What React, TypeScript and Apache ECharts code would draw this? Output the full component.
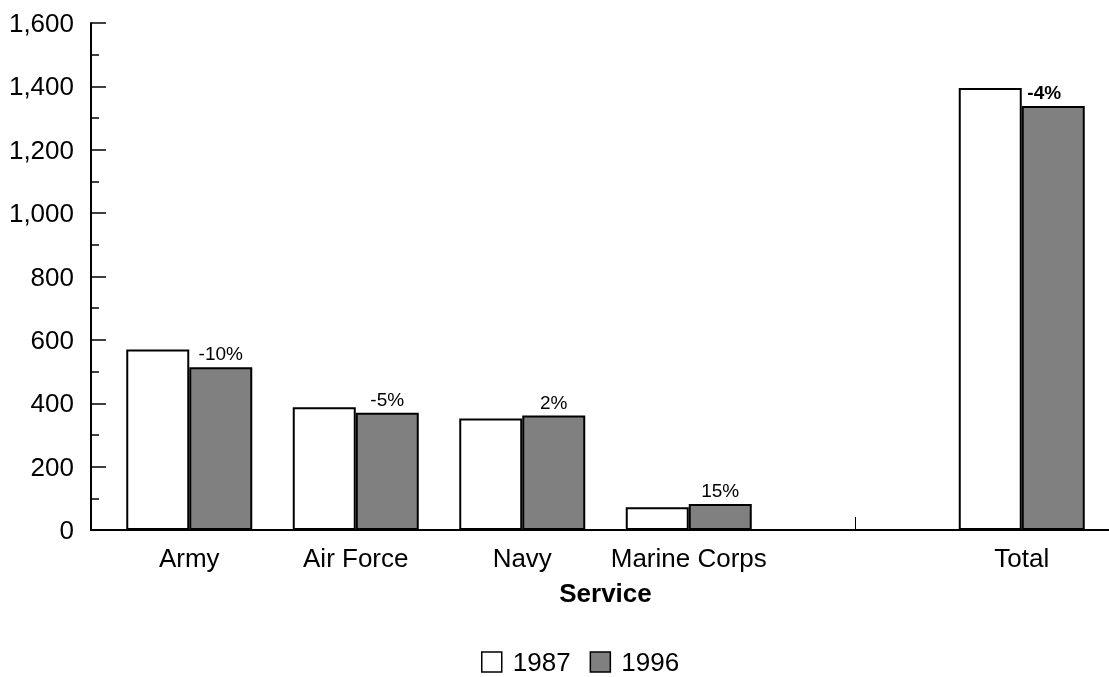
import React, { useEffect, useRef } from "react";
import * as echarts from "echarts";

const categories = ["Army", "Air Force", "Navy", "Marine Corps", "", "Total"];
const values1987: (number | null)[] = [570, 387, 352, 72, null, 1395];
const values1996: (number | null)[] = [514, 370, 361, 82, null, 1338];
const changeLabels = ["-10%", "-5%", "2%", "15%", "", "-4%"];
const yTicks = [0, 200, 400, 600, 800, 1000, 1200, 1400, 1600];

const FONT = "'Liberation Sans', Arial, sans-serif";

export default function App() {
  const ref = useRef<HTMLDivElement>(null);
  useEffect(() => {
    if (!ref.current) return;
    const chart = echarts.init(ref.current, undefined, { renderer: "svg" });
    const yMax = yTicks[yTicks.length - 1];
    const data1996 = values1996.map((v, i) => {
      if (v === null) return "-";
      const isTotal = categories[i] === "Total";
      return {
        value: v,
        label: {
          show: true,
          position: "top",
          distance: 4,
          formatter: changeLabels[i],
          fontSize: 19,
          fontWeight: isTotal ? "bold" : "normal",
          offset: isTotal ? [-9, 0] : [0, 0],
          color: "#000",
          fontFamily: FONT,
        },
      };
    });
    chart.setOption({
      animation: false,
      textStyle: { fontFamily: FONT, color: "#000" },
      grid: [
        { left: 106, right: 4, top: 23, bottom: 147 },
        { left: 91, right: 0, top: 23, bottom: 147 },
      ],
      xAxis: [
        {
          type: "category",
          gridIndex: 0,
          data: categories,
          axisLine: { show: false },
          axisTick: {
            show: true,
            alignWithLabel: true,
            inside: true,
            length: 13,
            interval: (i: number) => i === 4,
            lineStyle: { color: "#000", width: 1 },
          },
          axisLabel: { fontSize: 26, color: "#000", margin: 15, interval: 0, fontFamily: FONT },
          name: "Service",
          nameLocation: "middle",
          nameGap: 50,
          nameTextStyle: { fontSize: 26, fontWeight: "bold", color: "#000", fontFamily: FONT, verticalAlign: "top" },
        },
        {
          type: "value",
          gridIndex: 1,
          min: 0,
          max: 1,
          axisLine: { show: true, onZero: false, lineStyle: { color: "#000", width: 2 } },
          axisTick: { show: false },
          axisLabel: { show: false },
          splitLine: { show: false },
        },
      ],
      yAxis: [
        {
          type: "value",
          gridIndex: 0,
          min: 0,
          max: yMax,
          interval: 200,
          show: false,
        },
        {
          type: "value",
          gridIndex: 1,
          min: 0,
          max: yMax,
          interval: 200,
          axisLine: { show: true, lineStyle: { color: "#000", width: 2 } },
          axisTick: { show: true, inside: true, length: 15, lineStyle: { color: "#000", width: 1.5 } },
          minorTick: { show: true, splitNumber: 2, length: 8, lineStyle: { color: "#000", width: 1.5 } },
          splitLine: { show: false },
          axisLabel: {
            fontSize: 26,
            color: "#000",
            margin: 17,
            fontFamily: FONT,
            formatter: (v: number) => v.toLocaleString("en-US"),
          },
        },
      ],
      legend: {
        top: 644,
        left: 476,
        itemWidth: 20,
        itemHeight: 20,
        itemGap: 19,
        icon: "rect",
        textStyle: { fontSize: 26, color: "#000", fontFamily: FONT, padding: [0, 0, 0, 6] },
        itemStyle: { borderColor: "#000", borderWidth: 1.5 },
        data: ["1987", "1996"],
      },
      series: [
        {
          name: "1987",
          type: "bar",
          xAxisIndex: 0,
          yAxisIndex: 0,
          barWidth: 63,
          barGap: "0%",
          data: values1987.map((v) => (v === null ? "-" : v)),
          itemStyle: { color: "#ffffff", borderColor: "#000", borderWidth: 2 },
        },
        {
          name: "1996",
          type: "bar",
          xAxisIndex: 0,
          yAxisIndex: 0,
          barWidth: 63,
          barGap: "0%",
          data: data1996,
          itemStyle: { color: "#808080", borderColor: "#000", borderWidth: 2 },
        },
      ],
    });
    return () => chart.dispose();
  }, []);
  return (
    <div
      ref={ref}
      style={{ position: "fixed", left: 0, top: 0, width: 1109, height: 677 }}
    />
  );
}
